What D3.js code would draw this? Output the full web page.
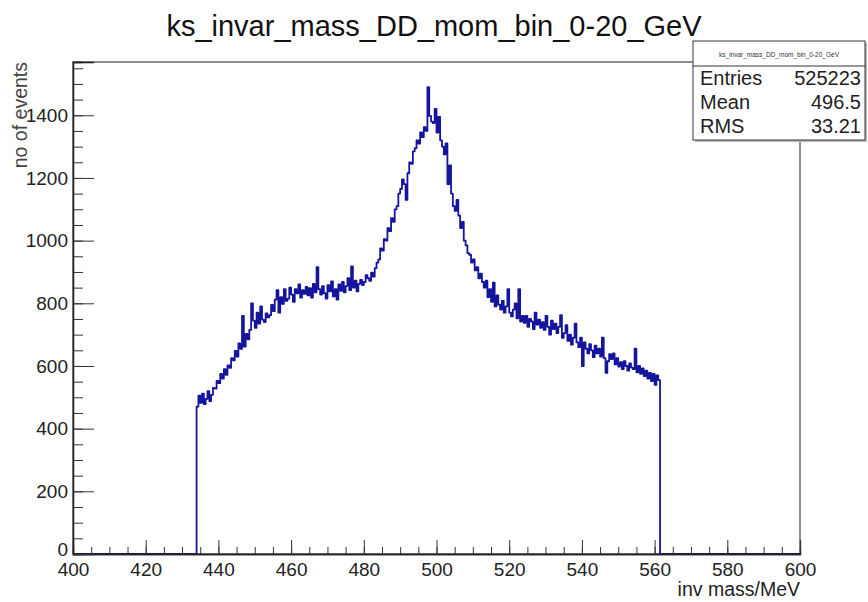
<!DOCTYPE html>
<html>
<head>
<meta charset="utf-8">
<script src="https://cdn.jsdelivr.net/npm/d3@7"></script>
<style>
  body { margin: 0; background: #fff; }
  svg { display: block; font-family: "Liberation Sans", Arial, sans-serif; }
</style>
</head>
<body>
<div id="chart"></div>
<script>
// histogram: 0.5 MeV bins starting at 434 MeV
const binStart = 434
const binWidth = 0.5
const counts = [
  470, 505, 482, 512, 478, 495, 520, 488, 508, 530,
  528, 552, 545, 575, 560, 590, 572, 602, 594, 625,
  618, 648, 630, 672, 655, 760, 662, 702, 685, 715,
  800, 745, 722, 770, 735, 790, 748, 740, 768, 755,
  762, 795, 775, 812, 842, 770, 820, 798, 845, 808,
  815, 850, 828, 805, 845, 832, 860, 818, 842, 830,
  852, 825, 848, 818, 862, 835, 915, 845, 828, 855,
  832, 815, 858, 838, 870, 822, 845, 812, 860, 840,
  868, 835, 855, 880, 842, 918, 850, 872, 838, 862,
  875, 858, 868, 890, 880, 872, 898, 885, 912, 930,
  940, 975, 968, 1005, 1000, 1040, 1030, 1072, 1060, 1100,
  1110, 1150, 1165, 1195, 1180, 1130, 1215, 1250, 1245, 1285,
  1295, 1320, 1310, 1345, 1330, 1362, 1350, 1490, 1398, 1380,
  1375, 1420, 1345, 1395, 1320, 1300, 1275, 1310, 1180, 1240,
  1150, 1110, 1095, 1130, 1080, 1040, 1060, 1000, 985, 960,
  955, 930, 940, 905, 915, 880, 895, 868, 850, 872,
  820, 845, 805, 866, 790, 825, 796, 780, 808, 770,
  790, 845, 770, 758, 780, 800, 752, 845, 742, 760,
  738, 760, 725, 750, 742, 718, 770, 732, 748, 722,
  740, 715, 760, 725, 700, 745, 718, 735, 705, 725,
  762, 690, 705, 730, 680, 700, 668, 690, 735, 675,
  660, 690, 600, 675, 655, 640, 670, 650, 628, 665,
  640, 655, 630, 690, 625, 578, 615, 638, 622, 640,
  605, 625, 598, 612, 590, 615, 600, 585, 608, 595,
  590, 655, 580, 600, 575, 592, 568, 585, 560, 578,
  552, 575, 540, 570, 555
]

const xDomain = [400, 600]
const yDomain = [0, 1570]
const xMajor = [400, 420, 440, 460, 480, 500, 520, 540, 560, 580, 600]
const xMinor = d3.range(400, 601, 5)
const yMajor = [0, 200, 400, 600, 800, 1000, 1200, 1400]
const yMinor = d3.range(0, 1570, 50)

const title = "ks_invar_mass_DD_mom_bin_0-20_GeV"
const xTitle = "inv mass/MeV"
const yTitle = "no of events"
const statLabels = ["Entries", "Mean", "RMS"]
const statValues = ["525223", "496.5", "33.21"]

const width = 868
const height = 602
const frame = { left: 73, right: 800, top: 62, bottom: 554 }

const svg = d3.select("#chart")
    .append("svg")
    .attr("width", width)
    .attr("height", height)

const x = d3.scaleLinear().domain(xDomain).range([frame.left, frame.right])
const y = d3.scaleLinear().domain(yDomain).range([frame.bottom, frame.top])

// frame box
svg.append("rect")
    .attr("x", frame.left)
    .attr("y", frame.top)
    .attr("width", frame.right - frame.left)
    .attr("height", frame.bottom - frame.top)
    .attr("fill", "none")
    .attr("stroke", "#555")
    .attr("stroke-width", 1.3)

// histogram as step line, zero outside the filled range
const pts = [[xDomain[0], 0]]
counts.forEach((c, i) => pts.push([binStart + i * binWidth, c]))
pts.push([binStart + counts.length * binWidth, 0])
pts.push([xDomain[1], 0])

const line = d3.line()
    .x(d => x(d[0]))
    .y(d => y(d[1]))
    .curve(d3.curveStepAfter)

svg.append("path")
    .datum(pts)
    .attr("d", line)
    .attr("fill", "none")
    .attr("stroke", "#14149c")
    .attr("stroke-width", 1.8)
    .attr("stroke-linejoin", "round")

// axes, ticks pointing inward like ROOT
svg.append("g")
    .attr("transform", `translate(0,${frame.bottom})`)
    .call(d3.axisBottom(x).tickValues(xMinor).tickSize(-7).tickFormat(""))
svg.append("g")
    .attr("transform", `translate(0,${frame.bottom})`)
    .call(d3.axisBottom(x).tickValues(xMajor).tickSize(-14).tickPadding(8.5).tickFormat(d3.format("d")))

svg.append("g")
    .attr("transform", `translate(${frame.left},0)`)
    .call(d3.axisLeft(y).tickValues(yMinor).tickSize(-10).tickFormat(""))
const yAxis = svg.append("g")
    .attr("transform", `translate(${frame.left},0)`)
    .call(d3.axisLeft(y).tickValues(yMajor).tickSize(-21).tickPadding(5).tickFormat(d3.format("d")))

// the 0 label sits a bit higher so it clears the 400 below it
yAxis.selectAll(".tick text").filter(d => d === 0).attr("dy", "0.1em")

svg.selectAll(".domain").attr("stroke", "#222").attr("stroke-width", 1.3)
svg.selectAll(".tick line").attr("stroke", "#333")
svg.selectAll(".tick text")
    .attr("font-size", 19)
    .attr("fill", "#222")
    .attr("font-family", "Liberation Sans, Arial, sans-serif")

// titles
svg.append("text")
    .attr("x", 434)
    .attr("y", 36)
    .attr("text-anchor", "middle")
    .attr("font-size", 29)
    .attr("fill", "#111")
    .text(title)

svg.append("text")
    .attr("x", frame.right)
    .attr("y", 596)
    .attr("text-anchor", "end")
    .attr("font-size", 19.5)
    .attr("fill", "#222")
    .text(xTitle)

svg.append("text")
    .attr("transform", `translate(27,${frame.top}) rotate(-90)`)
    .attr("text-anchor", "end")
    .attr("font-size", 19.5)
    .attr("fill", "#444")
    .text(yTitle)

// stats box
const box = { x: 693, y: 41, w: 172, h: 99, head: 25 }
svg.append("rect")
    .attr("x", box.x + 2)
    .attr("y", box.y + 2)
    .attr("width", box.w)
    .attr("height", box.h)
    .attr("fill", "#bbb")
svg.append("rect")
    .attr("x", box.x)
    .attr("y", box.y)
    .attr("width", box.w)
    .attr("height", box.h)
    .attr("fill", "#fff")
    .attr("stroke", "#333")
    .attr("stroke-width", 1)
svg.append("line")
    .attr("x1", box.x).attr("x2", box.x + box.w)
    .attr("y1", box.y + box.head).attr("y2", box.y + box.head)
    .attr("stroke", "#333")
svg.append("text")
    .attr("x", box.x + box.w / 2)
    .attr("y", box.y + 16)
    .attr("text-anchor", "middle")
    .attr("font-size", 6.5)
    .attr("fill", "#333")
    .text(title)

statLabels.forEach((lab, i) => {
    const yy = 85 + i * 23.8
    svg.append("text")
        .attr("x", box.x + 7)
        .attr("y", yy)
        .attr("font-size", 20)
        .attr("fill", "#222")
        .text(lab)
    svg.append("text")
        .attr("x", box.x + box.w - 4)
        .attr("y", yy)
        .attr("text-anchor", "end")
        .attr("font-size", 20)
        .attr("fill", "#222")
        .text(statValues[i])
})
</script>
</body>
</html>
